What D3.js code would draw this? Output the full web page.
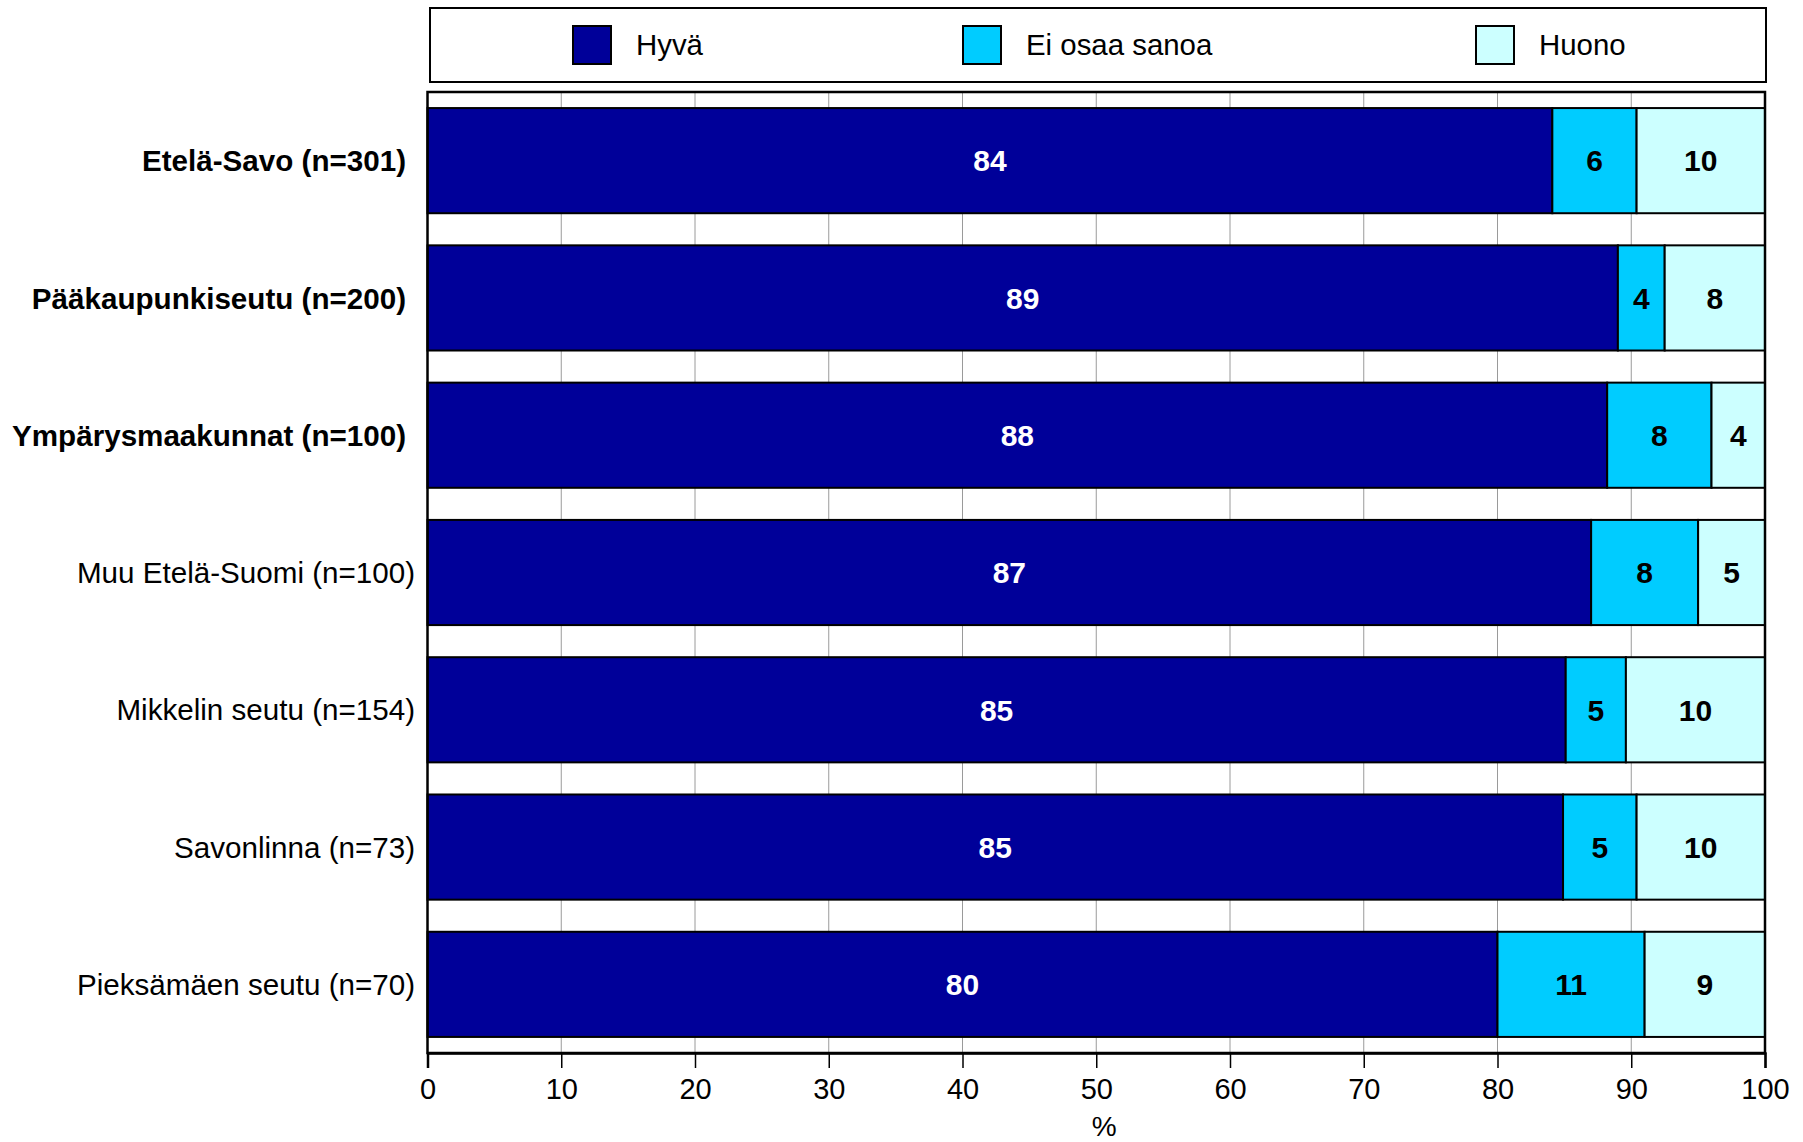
<!DOCTYPE html>
<html>
<head>
<meta charset="utf-8">
<script src="https://cdn.jsdelivr.net/npm/d3@7"></script>
<style>
  html, body { margin: 0; padding: 0; background: #fff; }
  svg { display: block; font-family: "Liberation Sans", Arial, sans-serif; }
</style>
</head>
<body>
<svg id="chart" width="1803" height="1142"></svg>
<script>
// ---- data ----
const categories = [
  "Etelä-Savo (n=301)",
  "Pääkaupunkiseutu (n=200)",
  "Ympärysmaakunnat (n=100)",
  "Muu Etelä-Suomi (n=100)",
  "Mikkelin seutu (n=154)",
  "Savonlinna (n=73)",
  "Pieksämäen seutu (n=70)"
];
const boldCategories = ["Etelä-Savo (n=301)", "Pääkaupunkiseutu (n=200)", "Ympärysmaakunnat (n=100)"];
const seriesNames = ["Hyvä", "Ei osaa sanoa", "Huono"];
const hyva   = [84.1, 89.0, 88.2, 87.0, 85.1, 84.9, 80.0];
const eiOsaa = [6.3, 3.5, 7.8, 8.0, 4.5, 5.5, 11.0];
const huono  = [9.6, 7.5, 4.0, 5.0, 10.4, 9.6, 9.0];
const hyvaLabels   = ["84", "89", "88", "87", "85", "85", "80"];
const eiOsaaLabels = ["6", "4", "8", "8", "5", "5", "11"];
const huonoLabels  = ["10", "8", "4", "5", "10", "10", "9"];
const xTicks = [0, 10, 20, 30, 40, 50, 60, 70, 80, 90, 100];
const xTitle = "%";

// ---- styles ----
const colors = ["#000099", "#00CCFF", "#CCFFFF"];
const labelColors = ["#ffffff", "#000000", "#000000"];

const svg = d3.select("#chart");
const pLeft = 427.5, pRight = 1765, pTop = 92, pBottom = 1053;

const x = d3.scaleLinear().domain([0, 100]).range([pLeft, pRight]);
const y = d3.scaleBand().domain(categories).range([pTop, pBottom]).paddingInner(0.234).paddingOuter(0.117);

// build stacked data
const rows = categories.map((c, i) => ({
  cat: c, vals: [hyva[i], eiOsaa[i], huono[i]], labels: [hyvaLabels[i], eiOsaaLabels[i], huonoLabels[i]]
}));
const segs = [];
rows.forEach(r => {
  let acc = 0;
  r.vals.forEach((v, k) => {
    segs.push({ cat: r.cat, x0: acc, x1: acc + v, k, label: r.labels[k] });
    acc += v;
  });
});

// gridlines
svg.append("g").selectAll("line").data(xTicks).join("line")
  .attr("x1", d => x(d)).attr("x2", d => x(d))
  .attr("y1", pTop).attr("y2", pBottom)
  .attr("stroke", "#9a9a9a").attr("stroke-width", 1);

// bars
svg.append("g").selectAll("rect").data(segs).join("rect")
  .attr("x", d => x(d.x0)).attr("width", d => x(d.x1) - x(d.x0))
  .attr("y", d => y(d.cat)).attr("height", y.bandwidth())
  .attr("fill", d => colors[d.k]).attr("stroke", "#000").attr("stroke-width", 2);

// bar value labels
svg.append("g").selectAll("text").data(segs).join("text")
  .attr("x", d => (x(d.x0) + x(d.x1)) / 2)
  .attr("y", d => y(d.cat) + y.bandwidth() / 2)
  .attr("dy", "0.36em")
  .attr("text-anchor", "middle")
  .attr("font-size", 30).attr("font-weight", "bold")
  .attr("fill", d => labelColors[d.k])
  .text(d => d.label);

// plot frame
svg.append("rect").attr("x", pLeft).attr("y", pTop)
  .attr("width", pRight - pLeft).attr("height", pBottom - pTop)
  .attr("fill", "none").attr("stroke", "#000").attr("stroke-width", 2.5);

// x axis
const xAxis = d3.axisBottom(x).tickValues(xTicks).tickSize(15).tickPadding(10).tickFormat(d3.format("d"));
const gx = svg.append("g").attr("transform", `translate(0,${pBottom})`).call(xAxis);
gx.select(".domain").attr("stroke", "#000").attr("stroke-width", 2.5);
gx.selectAll(".tick line").attr("stroke", "#000").attr("stroke-width", 1.5);
gx.selectAll(".tick text").attr("font-size", 29).attr("fill", "#000")
  .attr("font-family", "'Liberation Sans', Arial, sans-serif");

svg.append("text").attr("x", x(50) + 8).attr("y", 1126)
  .attr("dy", "0.36em")
  .attr("text-anchor", "middle").attr("font-size", 28).text(xTitle);

// y labels
svg.append("g").selectAll("text").data(categories).join("text")
  .attr("x", d => boldCategories.includes(d) ? 406 : 415)
  .attr("y", d => y(d) + y.bandwidth() / 2)
  .attr("dy", "0.36em")
  .attr("text-anchor", "end")
  .attr("font-size", 29.6)
  .attr("font-weight", d => boldCategories.includes(d) ? "bold" : "normal")
  .text(d => d);

// legend
const legend = svg.append("g");
legend.append("rect").attr("x", 430).attr("y", 8).attr("width", 1336).attr("height", 74)
  .attr("fill", "#fff").attr("stroke", "#000").attr("stroke-width", 2);
const legendX = [573, 963, 1476];
const li = legend.selectAll("g.item").data(seriesNames).join("g")
  .attr("class", "item").attr("transform", (d, i) => `translate(${legendX[i]},26)`);
li.append("rect").attr("width", 38).attr("height", 38)
  .attr("fill", (d, i) => colors[i]).attr("stroke", "#000").attr("stroke-width", 2);
li.append("text").attr("x", 63).attr("y", 18).attr("dy", "0.36em")
  .attr("font-size", 29.4).text(d => d);
</script>
</body>
</html>
